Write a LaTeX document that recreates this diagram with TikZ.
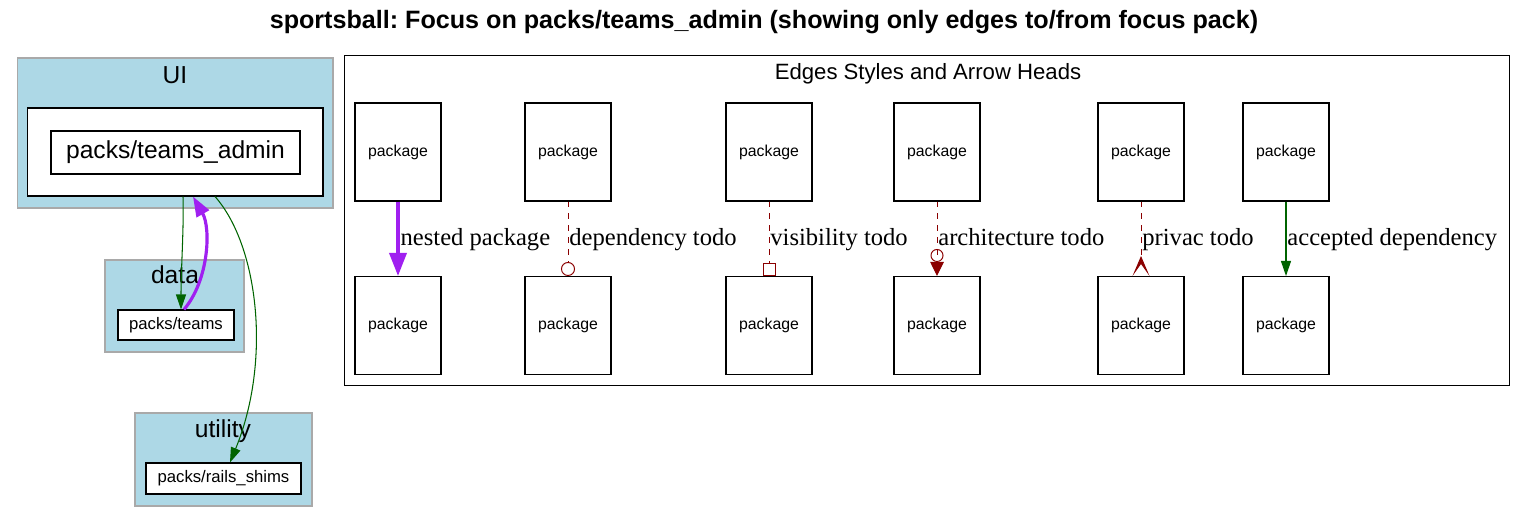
\documentclass[tikz,border=0pt]{standalone}
\usepackage{fontspec}
\setmainfont{Liberation Serif}
\setsansfont{Liberation Sans}
\usetikzlibrary{arrows.meta}
\definecolor{clight}{HTML}{ADD8E6}
\definecolor{cgrey}{HTML}{A9A9A9}
\definecolor{cpurple}{HTML}{A020F0}
\definecolor{cdred}{HTML}{8B0000}
\definecolor{cdgreen}{HTML}{006400}
\frenchspacing
\tikzset{
  every picture/.style={font=\sffamily, line width=0.6pt},
  cluster/.style={draw=cgrey, fill=clight, inner sep=0pt},
  pack/.style={draw, fill=white, inner sep=0pt, font=\sffamily\fontsize{9.5}{11}\selectfont},
  title/.style={font=\sffamily\bfseries\fontsize{14.3}{17}\selectfont},
  clabel/.style={font=\sffamily\fontsize{14}{17}\selectfont, anchor=north, inner sep=0pt},
  nested/.style={draw=cpurple, line width=2pt, -{Triangle[length=0.46cm, width=0.34cm]}},
  todo/.style={draw=cdred, line width=0.55pt, dash pattern=on 3.4pt off 3.4pt},
  accepted/.style={draw=cdgreen, -{Triangle[length=0.3cm, width=0.2cm]}},
}

\begin{document}
\begin{tikzpicture}[x=0.02cm, y=-0.02cm,
  pkg/.style={draw, minimum width=1.72cm, minimum height=1.96cm, inner sep=0pt, font=\sffamily\fontsize{9}{11}\selectfont},
  lab/.style={font=\fontsize{14}{17}\selectfont, anchor=west, inner sep=0.5pt, text height=0.7em, text depth=0.22em, yshift=-0.06cm},
  depend/.style={todo, -{Circle[open, length=0.28cm, width=0.28cm]}},
  visib/.style={todo, -{Square[open, length=0.26cm, width=0.26cm]}},
  arch/.style={todo, -{Circle[open, length=0.26cm, width=0.26cm] Triangle[length=0.28cm, width=0.27cm]}},
  privac/.style={todo, -{Stealth[reversed, length=0.4cm, width=0.34cm, inset=0.24cm]}}]
  \useasboundingbox (0,0) rectangle (1528,523);
  \node[title] (head) at (764,22) {sportsball: Focus on packs/teams\_admin (showing only edges to/from focus pack)};
  % UI
  \node[cluster, minimum width=6.32cm, minimum height=3cm] (ui) at (175,133) {};
  \node[clabel] (uilab) at (175,66) {UI};
  \node[draw, fill=white, minimum width=5.92cm, minimum height=1.76cm, inner sep=0pt] (inner) at (175,152) {};
  \node[pack, minimum width=4.98cm, minimum height=0.86cm, font=\sffamily\fontsize{14}{17}\selectfont] (admin) at (175.5,152.5) {packs/teams\_admin};
  % data
  \node[cluster, minimum width=2.78cm, minimum height=1.84cm] (data) at (174.5,306) {};
  \node[clabel] (datalab) at (175,265) {data};
  \node[pack, minimum width=2.32cm, minimum height=0.6cm] (teams) at (176,325) {packs/teams};
  % utility
  \node[cluster, minimum width=3.54cm, minimum height=1.86cm] (util) at (223.5,459.5) {};
  \node[clabel] (utillab) at (223,419) {utility};
  \node[pack, minimum width=3.1cm, minimum height=0.62cm] (shims) at (223.5,478.5) {packs/rails\_shims};
  % edges to/from focus pack
  \draw[accepted] ([xshift=0.16cm]inner.south) .. controls +(1,30) and +(0,-40) .. ([xshift=0.1cm]teams.north);
  \draw[nested, line width=1.8pt, -{Triangle[length=0.4cm, width=0.28cm]}] ([xshift=0.16cm]teams.north) .. controls (209,280) and (211,228) .. ([xshift=0.36cm]inner.south);
  \draw[accepted] ([xshift=0.8cm]inner.south) .. controls (258,245) and (272,360) .. ([xshift=0.13cm]shims.north);
  % legend
  \node[draw, fill=white, minimum width=23.32cm, minimum height=6.62cm, inner sep=0pt] (legend) at (927,220.5) {};
  \node[clabel, font=\sffamily\fontsize{12.6}{15}\selectfont] (leglab) at (928,63) {Edges Styles and Arrow Heads};
  \foreach \i/\x/\s/\t in {1/398/nested/nested package, 2/568/depend/dependency todo,
                           3/769/visib/visibility todo, 4/937/arch/architecture todo,
                           5/1141/privac/privac todo, 6/1286/accepted/accepted dependency} {
    \node[pkg] (top\i) at (\x,152) {package};
    \node[pkg] (bot\i) at (\x,325.5) {package};
    \draw[\s] (top\i) -- node[lab] {\t} (bot\i);
  }
\end{tikzpicture}
\end{document}
